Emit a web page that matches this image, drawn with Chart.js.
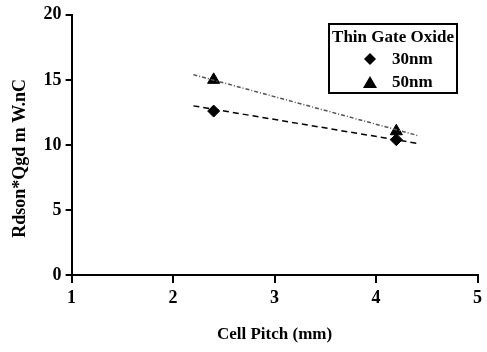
<!DOCTYPE html>
<html lang="en">
  <head>
    <meta charset="UTF-8" />
    <title>Rdson*Qgd vs Cell Pitch</title>
    <script src="https://cdn.jsdelivr.net/npm/chart.js@4/dist/chart.umd.min.js"></script>
    <style>
      html, body { margin: 0; padding: 0; background: #fff; }
      #wrap { width: 487px; height: 352px; }
    </style>
  </head>
  <body>
    <div id="wrap"><canvas id="pitchChart"></canvas></div>
    <script>
      // measured points
      const pitch = [2.4, 4.2];
      const oxide30 = [12.6, 10.4];
      const oxide50 = [15.0, 11.05];
      // trend line end points
      const trendX = [2.2, 4.42];
      const trend30 = [13.0, 10.1];
      const trend50 = [15.4, 10.7];
      const seriesNames = ["30nm", "50nm"];

      const toXY = (xs, ys) => xs.map((x, i) => ({ x: x, y: ys[i] }));
      const font = { family: "'Liberation Serif', 'Times New Roman', serif", weight: "bold" };

      // boxed legend in the upper right, drawn over the plot
      const boxLegend = {
        id: "boxLegend",
        afterDraw(chart) {
          const c = chart.ctx;
          const x0 = 329, y0 = 24, w = 128, h = 69;
          c.save();
          c.fillStyle = "#fff";
          c.fillRect(x0, y0, w, h);
          c.strokeStyle = "#000";
          c.lineWidth = 2;
          c.strokeRect(x0, y0, w, h);
          c.fillStyle = "#000";
          c.font = "bold 17px 'Liberation Serif', serif";
          c.textBaseline = "middle";
          c.textAlign = "center";
          c.fillText("Thin Gate Oxide", x0 + w / 2, y0 + 14);
          c.textAlign = "left";
          // diamond
          let cx = x0 + 41, cy = y0 + 35;
          c.beginPath();
          c.moveTo(cx, cy - 6); c.lineTo(cx + 6, cy); c.lineTo(cx, cy + 6); c.lineTo(cx - 6, cy);
          c.closePath(); c.fill();
          c.fillText(seriesNames[0], x0 + 63, cy + 1);
          // triangle
          cy = y0 + 58;
          c.beginPath();
          c.moveTo(cx, cy - 6); c.lineTo(cx + 7, cy + 6); c.lineTo(cx - 7, cy + 6);
          c.closePath(); c.fill();
          c.fillText(seriesNames[1], x0 + 63, cy + 1);
          c.restore();
        },
      };

      new Chart(document.getElementById("pitchChart"), {
        type: "scatter",
        data: {
          datasets: [
            {
              label: "trend " + seriesNames[0],
              data: toXY(trendX, trend30),
              showLine: true,
              borderColor: "#000",
              borderWidth: 1.5,
              borderDash: [6, 4],
              pointRadius: 0,
            },
            {
              label: "trend " + seriesNames[1],
              data: toXY(trendX, trend50),
              showLine: true,
              borderColor: "#555",
              borderWidth: 1.5,
              borderDash: [4, 2, 1, 2],
              pointRadius: 0,
            },
            {
              label: seriesNames[0],
              data: toXY(pitch, oxide30),
              pointStyle: "rectRot",
              pointRadius: 6,
              backgroundColor: "#000",
              borderColor: "#000",
            },
            {
              label: seriesNames[1],
              data: toXY(pitch, oxide50),
              pointStyle: "triangle",
              pointRadius: 7,
              backgroundColor: "#000",
              borderColor: "#000",
            },
          ],
        },
        options: {
          responsive: true,
          maintainAspectRatio: false,
          animation: false,
          layout: { padding: { left: 6, right: 0, top: 2, bottom: 3 } },
          plugins: { legend: { display: false }, tooltip: { enabled: false } },
          scales: {
            x: {
              type: "linear",
              min: 1,
              max: 5,
              ticks: { stepSize: 1, color: "#000", font: { ...font, size: 18 }, padding: 5 },
              grid: { drawOnChartArea: false, color: "#000", tickLength: 8, lineWidth: 2 },
              border: { color: "#000", width: 2 },
              title: { display: true, text: "Cell Pitch (mm)", color: "#000", font: { ...font, size: 17 }, padding: { top: 10 } },
            },
            y: {
              min: 0,
              max: 20,
              ticks: { stepSize: 5, color: "#000", font: { ...font, size: 18 }, padding: 4 },
              grid: { drawOnChartArea: false, color: "#000", tickLength: 6, lineWidth: 2 },
              border: { color: "#000", width: 2 },
              title: { display: true, text: "Rdson*Qgd m W.nC      ", color: "#000", font: { ...font, size: 18 }, padding: { bottom: 8 } },
            },
          },
        },
        plugins: [boxLegend],
      });
    </script>
  </body>
</html>
